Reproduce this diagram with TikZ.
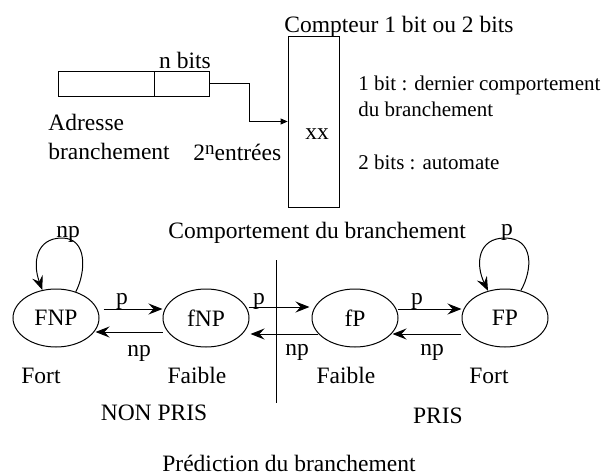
\documentclass[tikz,border=0pt]{standalone}
\usepackage{fontspec}
\setmainfont{Liberation Serif}
\usetikzlibrary{shapes.geometric,arrows.meta}
\newcommand{\grandtxt}{\fontsize{23.5}{28}\selectfont}
\newcommand{\petittxt}{\fontsize{21}{26}\selectfont}
\begin{document}
\begin{tikzpicture}[x=1pt, y=-1pt, line width=0.8pt,
        every node/.style={font=\grandtxt, inner sep=0pt},
        etat/.style={ellipse, draw, line width=1pt, minimum width=86pt, minimum height=58pt},
        fleche/.style={line width=1pt, -{Stealth[length=14pt, width=11pt, inset=5pt]}},
        lab/.style={anchor=base}]
            \useasboundingbox (0,0) rectangle (606,475);

            % table d'adresse et compteur
            \node[draw, rectangle, minimum width=96pt, minimum height=25pt] (adrA) at (106,83.5) {};
            \node[draw, rectangle, minimum width=55pt, minimum height=25pt] (adrB) at (181.5,83.5) {};
            \node[draw, rectangle, minimum width=51pt, minimum height=171pt] (cpt) at (313.5,121.5) {};
            \node[lab] (xx) at (317,139) {xx};
            \node[lab] (nbits) at (185,68) {n bits};
            \node[anchor=base west] (titre) at (284,32) {Compteur 1 bit ou 2 bits};
            \node[anchor=base west] (adr1) at (48,130) {Adresse};
            \node[anchor=base west] (adr2) at (48,159) {branchement};
            \node[anchor=base west] (entrees) at (193,160) {2\raisebox{6pt}{\fontsize{19}{19}\selectfont n}entrées};
            \node[anchor=base west, font=\petittxt] (bit1a) at (358,90) {1 bit : dernier comportement};
            \node[anchor=base west, font=\petittxt] (bit1b) at (358,116) {du branchement};
            \node[anchor=base west, font=\petittxt] (bit2) at (358,169) {2 bits : automate};

            \draw[-{Triangle[length=7pt, width=6pt]}] (adrB.east) -- ++(40,0) |- (cpt.west);

            % automate
            \node[anchor=base west] (comport) at (168,238) {Comportement du branchement};
            \coordinate (sepH) at (276,260);
            \coordinate (sepB) at (276,403);
            \draw (sepH) -- (sepB);

            \node[etat] (FNP) at (56,318) {FNP};
            \node[etat] (fNP) at (206,318) {fNP};
            \node[etat] (fP) at (355,318) {fP};
            \node[etat] (FP) at (505,318) {FP};

            \draw[fleche] ([xshift=4pt, yshift=9pt]FNP.east) -- ([yshift=9pt]fNP.west);
            \draw[fleche] ([yshift=-14pt]fNP.west) -- ([xshift=-4pt, yshift=-14pt]FNP.east);
            \draw[fleche] ([xshift=-1pt, yshift=11pt]fNP.east) -- ([xshift=-2pt, yshift=11pt]fP.west);
            \draw[fleche] ([xshift=6pt, yshift=-16pt]fP.west) -- ([xshift=1pt, yshift=-16pt]fNP.east);
            \draw[fleche] ([xshift=-1pt, yshift=9pt]fP.east) -- ([yshift=9pt]FP.west);
            \draw[fleche] ([xshift=-1pt, yshift=-16pt]FP.west) -- ([xshift=-6pt, yshift=-16pt]fP.east);

            % boucles
            \coordinate (hautFNP) at (62,238);
            \coordinate (hautFP) at (505,238);
            \draw[fleche] (FNP.53) .. controls +(10,-19) and +(26,0) .. (hautFNP)
                .. controls +(-26,0) and +(-10,-27) .. (FNP.116);
            \draw[fleche] (FP.60) .. controls +(12,-21) and +(29,0) .. (hautFP)
                .. controls +(-27,0) and +(-13,-27) .. (FP.122);

            \node[lab] (p1) at (122,304) {p};
            \node[lab] (np1) at (139,356) {np};
            \node[lab] (p2) at (259,304) {p};
            \node[lab] (np2) at (297,355) {np};
            \node[lab] (p3) at (417,304) {p};
            \node[lab] (np3) at (432,355) {np};
            \node[lab] (npboucle) at (68,237) {np};
            \node[lab] (pboucle) at (507,235) {p};

            \node[lab] (fort1) at (41,383) {Fort};
            \node[lab] (faible1) at (197,383) {Faible};
            \node[lab] (faible2) at (346,383) {Faible};
            \node[lab] (fort2) at (489,383) {Fort};
            \node[lab] (nonpris) at (154,420) {NON PRIS};
            \node[lab] (pris) at (438,423) {PRIS};
            \node[lab] (predic) at (289,471) {Prédiction du branchement};
        \end{tikzpicture}
\end{document}
